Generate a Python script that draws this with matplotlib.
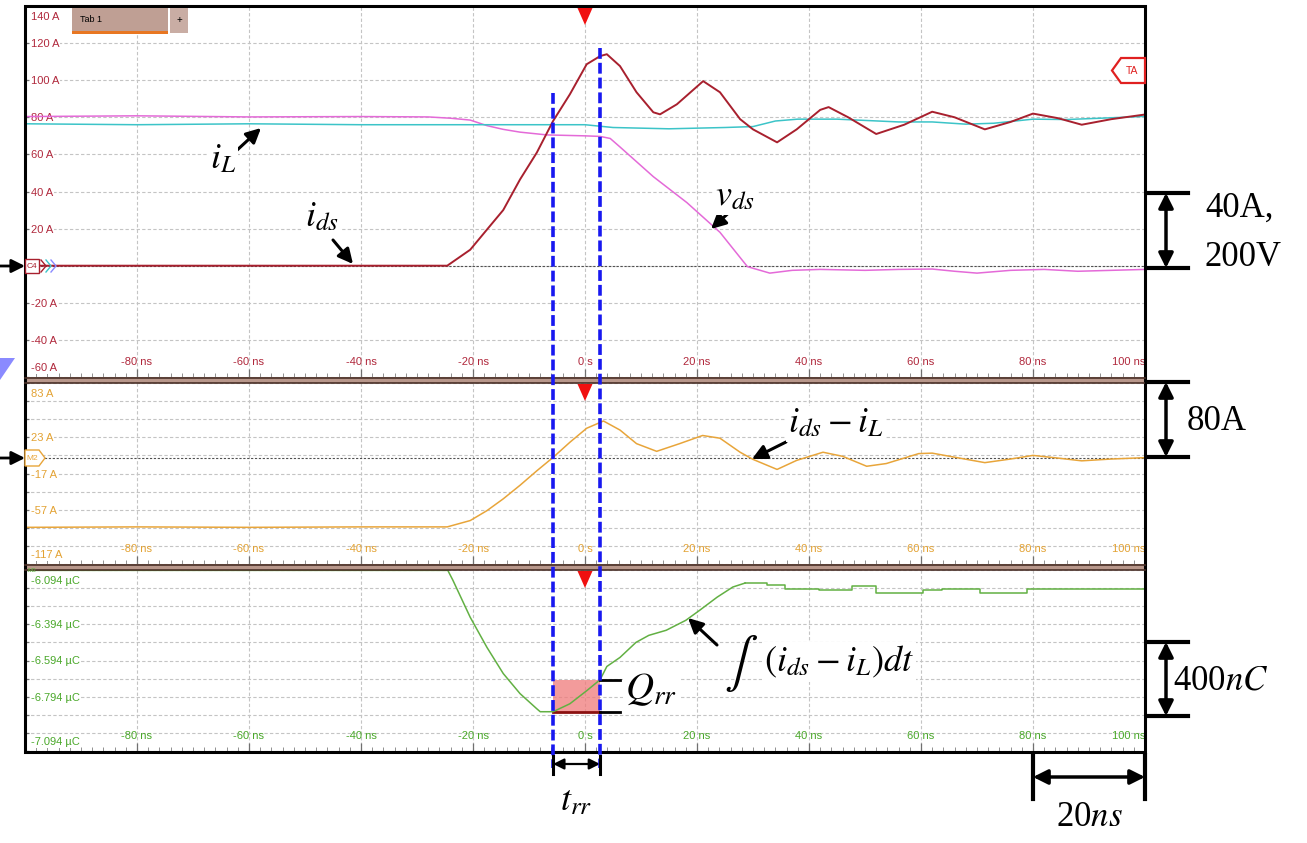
import numpy as np
import matplotlib
matplotlib.use("Agg")
import matplotlib.pyplot as plt
from matplotlib.patches import Rectangle, Polygon, FancyArrowPatch

plt.rcParams['mathtext.fontset'] = 'stix'

# ---------------- data ----------------
# top panel: drain-source current i_ds (A)
t_ids = [-100, -24.6, -20.5, -17.5, -14.6, -11.6, -8.6, -5.7, -2.7, 0.3, 2.7, 3.9,
         6.25, 9.2, 12.2, 13.4, 16.4, 21.1, 24.1, 27.7, 30, 34.3, 37.8, 42, 43.5,
         47, 52, 57, 62, 66, 71.4, 76, 80, 84.5, 88.7, 94, 100]
i_ds = [0, 0, 8.6, 19.5, 30, 46.5, 61, 78, 92.4, 108.6, 113, 114,
        107.6, 93.5, 82.7, 81.6, 87, 99.5, 93.5, 79, 73.5, 66.5, 73.5, 84, 85.5,
        80, 71, 76, 83, 80, 73.5, 77.5, 82, 79.5, 76, 79, 81.5]

# top panel: inductor current i_L (A)
t_il = [-100, -80, -60, -40, -20, -5.7, 0, 5, 15, 25, 30, 34, 38, 45, 56, 62, 68,
        73, 80, 86, 92, 100]
i_L = [76.5, 76, 76.5, 76, 76, 76, 76, 74.5, 73.8, 74.5, 75, 78, 79, 79, 77.5,
       77.5, 76.3, 76.8, 79, 78.8, 79.5, 80.5]

# top panel: drain-source voltage v_ds (V); shown at 200 V per 40 A
t_vds = [-100, -80, -60, -40, -28, -24, -20.5, -17.5, -14.6, -11.6, -6.8, 0, 2.7,
         4.5, 6.25, 12.2, 18.2, 24.1, 29, 33, 37, 42, 50, 56, 62, 66, 70, 76, 82,
         88, 94, 100]
v_ds = [402, 404, 401, 402, 401, 397.5, 392.5, 377.5, 367.5, 360, 352.5, 350, 348.5,
        343, 320, 240, 170, 90, -2.5, -20, -12.5, -10, -12.5, -10, -9, -15, -20,
        -12.5, -10, -15, -12.5, -10]
V_PER_A = 200.0 / 40.0

# middle panel: math channel i_ds - i_L (A)
t_diff = [-100, -80, -60, -40, -24.6, -20.5, -17.5, -14.6, -11.6, -8.6, -5.7, -2.7,
          0.3, 3.3, 6.25, 9.2, 12.8, 16.9, 21, 24.1, 27.7, 30, 34.3, 37.8, 42.5, 46,
          50.3, 53.8, 59.6, 62, 66, 71.4, 76, 80, 84.5, 88.7, 94, 100]
i_diff = [-76.5, -76, -76.5, -76, -76, -69, -58, -45, -30, -14, 0.8, 17.5,
          33, 41, 31, 16, 7.5, 16, 25, 22, 6.5, -1.4, -12.5, -2.5, 6.5, 2,
          -9, -6, 5, 5.5, 1, -5, -1, 3, 0, -3, -1, 0.5]

# bottom panel: integral of (i_ds - i_L) (uC)
t_q_ramp = [-100, -24.5, -23.6, -20.5, -17.5, -14.6, -11.6, -8.6, -8, -5.7, -2.7,
            0.3, 2.7, 3.9, 6.25, 9.1, 11.4, 14.5, 18, 20.5, 23.6, 26.4, 28.6]
q_ramp = [-6.096, -6.096, -6.150, -6.355, -6.522, -6.666, -6.777, -6.861, -6.877,
          -6.877, -6.833, -6.761, -6.700, -6.627, -6.577, -6.494, -6.455, -6.427,
          -6.372, -6.316, -6.244, -6.188, -6.166]
t_q_tail = [28.6, 32.5, 35.7, 41.8, 47.7, 52.0, 60.3, 63.7, 70.5, 79.0, 100]
q_tail = [-6.166, -6.177, -6.199, -6.205, -6.183, -6.222, -6.205, -6.199, -6.222,
          -6.199, -6.199]

# reverse recovery window (ns) and charge levels (uC)
t_rr_start, t_rr_end = -5.7, 2.7
q_rr_low, q_rr_high = -6.877, -6.700

time_ticks = [-80, -60, -40, -20, 0, 20, 40, 60, 80, 100]
time_labels = ['-80 ns', '-60 ns', '-40 ns', '-20 ns', '0 s', '20 ns', '40 ns',
               '60 ns', '80 ns', '100 ns']
top_ticks = [140, 120, 100, 80, 60, 40, 20, -20, -40, -60]
top_labels = ['140 A', '120 A', '100 A', '80 A', '60 A', '40 A', '20 A', '-20 A',
              '-40 A', '-60 A']
mid_ticks = [83, 23, -17, -57, -117]
mid_labels = ['83 A', '23 A', '-17 A', '-57 A', '-117 A']
bot_ticks = [-6.094, -6.394, -6.594, -6.794, -7.094]
bot_labels = ['-6.094 µC', '-6.394 µC', '-6.594 µC', '-6.794 µC', '-7.094 µC']

# ---------------- styling ----------------
C_IDS = '#a8202e'
C_IL = '#3cc4c8'
C_VDS = '#e46ad8'
C_DIFF = '#e8a53a'
C_Q = '#62b043'
C_TOPLBL = '#b0283c'
C_MIDLBL = '#e3a233'
C_BOTLBL = '#4aa82a'
SCOPE_FONT = ['Liberation Sans', 'DejaVu Sans']
SERIF = ['Liberation Serif', 'DejaVu Serif']

W, H = 1307, 843
fig = plt.figure(figsize=(W / 100, H / 100), dpi=100)


def add_panel(y0, y1):
    return fig.add_axes([25 / W, 1 - y1 / H, 1120 / W, (y1 - y0) / H])


ax_top = add_panel(6, 377)
ax_mid = add_panel(383, 564)
ax_bot = add_panel(570, 751)

panels = [
    (ax_top, (-60, 140), np.arange(-60, 141, 20), top_ticks, top_labels, C_TOPLBL),
    (ax_mid, (-117, 83), np.arange(-117, 84, 20), mid_ticks, mid_labels, C_MIDLBL),
    (ax_bot, (-7.094, -6.094), np.linspace(-7.094, -6.094, 11), bot_ticks, bot_labels, C_BOTLBL),
]

for ax, ylim, ygrid, yt, yl, lc in panels:
    ax.set_xlim(-100, 100)
    ax.set_ylim(*ylim)
    for s in ax.spines.values():
        s.set_visible(False)
    ax.set_xticks(np.arange(-100, 101, 20))
    ax.set_xticks(np.arange(-100, 101, 2), minor=True)
    ax.set_yticks(ygrid)
    ax.tick_params(axis='x', which='major', direction='in', length=6, width=0.9,
                   color='#707070', labelbottom=False)
    ax.tick_params(axis='x', which='minor', direction='in', length=3, width=0.7,
                   color='#909090')
    ax.tick_params(axis='y', which='major', direction='in', length=3, width=0.9,
                   color='#707070', labelleft=False)
    ax.grid(True, which='major', color='#c4c4c4', lw=0.8, ls=(0, (3, 2)))
    ax.set_axisbelow(True)
    n = len(yt)
    for k, (v, lab) in enumerate(zip(yt, yl)):
        if k == 0:
            dy = -11
        elif k == n - 1:
            dy = 9
        else:
            dy = -1
        ax.annotate(lab, xy=(0, v), xycoords=('axes fraction', 'data'),
                    xytext=(6, dy), textcoords='offset pixels', ha='left',
                    va='center', color=lc, fontsize=8, family=SCOPE_FONT,
                    bbox=dict(boxstyle='square,pad=0.05', fc='white', ec='none'),
                    zorder=3)
    for t, lab in zip(time_ticks, time_labels):
        ax.annotate(lab, xy=(t, 0), xycoords=('data', 'axes fraction'),
                    xytext=(0, 15), textcoords='offset pixels',
                    ha='right' if t == 100 else 'center', va='center', color=lc,
                    fontsize=8, family=SCOPE_FONT, zorder=3)

# traces
ax_top.axhline(0, color='#505050', lw=0.8, ls=(0, (2, 1.5)), zorder=2)
ax_top.plot(t_vds, np.array(v_ds) / V_PER_A, color=C_VDS, lw=1.1, zorder=4)
ax_top.plot(t_il, i_L, color=C_IL, lw=1.1, zorder=4)
ax_top.plot(t_ids, i_ds, color=C_IDS, lw=1.4, zorder=5)

ax_mid.axhline(0, color='#505050', lw=0.8, ls=(0, (2, 1.5)), zorder=2)
ax_mid.plot(t_diff, i_diff, color=C_DIFF, lw=1.1, zorder=4)

ax_bot.add_patch(Rectangle((t_rr_start, q_rr_low), t_rr_end - t_rr_start,
                           q_rr_high - q_rr_low, fc='#f07a7a', ec='none',
                           alpha=0.75, zorder=3))
ax_bot.plot([t_rr_start, t_rr_end], [q_rr_low, q_rr_low], color='#8b1010', lw=2,
            zorder=4)
ax_bot.plot(t_q_ramp, q_ramp, color=C_Q, lw=1.1, zorder=5)
ax_bot.plot(t_q_tail, q_tail, color=C_Q, lw=1.1, drawstyle='steps-post', zorder=5)
for q in (q_rr_low, q_rr_high):
    ax_bot.plot([t_rr_end, t_rr_end + 3.6], [q, q], color='black', lw=2, zorder=6,
                clip_on=False)

# ---------------- overlay (pixel coordinates) ----------------
ov = fig.add_axes([0, 0, 1, 1], zorder=10)
ov.set_xlim(0, W)
ov.set_ylim(H, 0)
ov.axis('off')
ov.patch.set_alpha(0)


def t2px(t):
    return 25 + (t + 100) * 5.6


# separator bands
for y0, y1 in [(377, 383), (564, 570)]:
    ov.add_patch(Rectangle((25, y0), 1120, y1 - y0, fc='#b8978b', ec='none'))
    ov.plot([25, 1145], [y0 + 0.5, y0 + 0.5], color='#4a3028', lw=1.2)
    ov.plot([25, 1145], [y1 - 0.5, y1 - 0.5], color='#4a3028', lw=1.2)
# outer frame
ov.add_patch(Rectangle((25, 6), 1120, 746, fc='none', ec='black', lw=2.2))

# tab
ov.add_patch(Rectangle((72, 8), 96, 25, fc='#bf9f94', ec='none'))
ov.add_patch(Rectangle((72, 31), 96, 2.5, fc='#e87722', ec='none'))
ov.add_patch(Rectangle((170, 8), 18, 25, fc='#c9ada4', ec='none'))
ov.text(80, 20, 'Tab 1', fontsize=6.5, family=SCOPE_FONT, va='center', ha='left')
ov.text(179, 20, '+', fontsize=7, family=SCOPE_FONT, va='center', ha='center')

# trigger markers
xt0 = t2px(0)
for ytop in (8, 384, 571):
    ov.add_patch(Polygon([(xt0 - 7.5, ytop), (xt0 + 7.5, ytop), (xt0, ytop + 17)],
                         closed=True, fc='#f01010', ec='none'))

# TA marker
ov.add_patch(Polygon([(1112, 70.5), (1121, 58), (1145, 58), (1145, 83), (1121, 83)],
                     closed=True, fc='white', ec='#e02020', lw=1.6))
ov.text(1132, 71, 'TA', color='#e02020', fontsize=7.5, family=SCOPE_FONT,
        ha='center', va='center')

# channel markers
ov.add_patch(Rectangle((25, 259), 14, 14, fc='white', ec=C_IDS, lw=1))
ov.text(32, 266, 'C4', color=C_IDS, fontsize=6, family=SCOPE_FONT, ha='center',
        va='center')
for k, c in enumerate([C_IDS, C_IL, '#8a8aff']):
    ov.plot([41 + 5 * k, 46 + 5 * k, 41 + 5 * k], [260, 266, 272], color=c, lw=1)
ov.add_patch(Polygon([(25, 450), (39, 450), (45, 458), (39, 466), (25, 466)],
                     closed=True, fc='white', ec=C_DIFF, lw=1))
ov.text(32, 458, 'M2', color=C_DIFF, fontsize=6, family=SCOPE_FONT, ha='center',
        va='center')
ov.text(27, 571, 'M3', color=C_Q, fontsize=4.5, family=SCOPE_FONT, ha='left',
        va='center')

# purple edge triangle
ov.add_patch(Polygon([(0, 358), (15, 358), (0, 380)], closed=True, fc='#8a8aff',
                     ec='none'))

# blue dashed t_rr boundaries
x_a, x_b = t2px(t_rr_start), t2px(t_rr_end)
ov.plot([x_a, x_a], [93, 768], color='#1818f0', lw=2.6, ls=(0, (3, 1.1)))
ov.plot([x_b, x_b], [48, 768], color='#1818f0', lw=2.6, ls=(0, (3, 1.1)))


def arrow(p0, p1, style='-|>', ms=22, lw=2.2):
    ov.add_patch(FancyArrowPatch(p0, p1, arrowstyle=style, mutation_scale=ms,
                                 color='black', lw=lw, shrinkA=0, shrinkB=0))


def label(x, y, s, size=25, ha='left', family=None):
    ov.text(x, y, s, fontsize=size, ha=ha, va='center',
            family=family if family else SERIF,
            bbox=dict(boxstyle='square,pad=0.05', fc='white', ec='none'))


# channel labels with arrows
label(210, 160, r'$i_L$', size=26)
arrow((235, 152), (261, 128))
label(305, 218, r'$i_{ds}$', size=26)
arrow((333, 240), (353, 264))
label(715, 197, r'$v_{ds}$', size=26)
arrow((734, 208), (711, 229))
label(788, 424, r'$i_{ds}-i_L$', size=26)
arrow((786, 442), (752, 459))
label(764, 662, r'$(i_{ds}-i_L)dt$', size=26)
ov.text(724, 664, r'$\int$', fontsize=36, ha='left', va='center')
arrow((717, 645), (688, 618))
label(625, 690, r'$Q_{rr}$', size=28)

# t_rr marker
for x in (x_a, x_b):
    ov.plot([x, x], [756, 774], color='black', lw=2.2)
arrow((x_a, 764), (x_b, 764), style='<|-|>', ms=16, lw=1.6)
ov.text((x_a + x_b) / 2, 800, r'$t_{rr}$', fontsize=26, ha='center', va='center')

# 20 ns scale
x20a, x20b = t2px(80), t2px(100)
for x in (x20a, x20b):
    ov.plot([x, x], [755, 799], color='black', lw=3)
arrow((x20a, 777), (x20b, 777), style='<|-|>', ms=22, lw=2.5)
ov.text((x20a + x20b) / 2, 818, r'20$ns$', fontsize=25, ha='center', va='center',
        family=SERIF)


# vertical scale bars on the right
def vbar(y0, y1):
    for y in (y0, y1):
        ov.plot([1147, 1188], [y, y], color='black', lw=3)
    arrow((1166, y0), (1166, y1), style='<|-|>', ms=22, lw=2.5)


vbar(193, 268)
ov.text(1205, 208, '40A,', fontsize=25, family=SERIF, ha='left', va='center')
ov.text(1205, 258, '200V', fontsize=25, family=SERIF, ha='left', va='center')
vbar(382, 457)
ov.text(1187, 422, '80A', fontsize=25, family=SERIF, ha='left', va='center')
vbar(642, 716)
ov.text(1173, 681, r'400$nC$', fontsize=25, family=SERIF, ha='left', va='center')

# reference arrows on the left edge
arrow((0, 266), (25, 266), ms=20, lw=2)
arrow((0, 458), (25, 458), ms=20, lw=2)

fig.savefig('out.png', dpi=100)
